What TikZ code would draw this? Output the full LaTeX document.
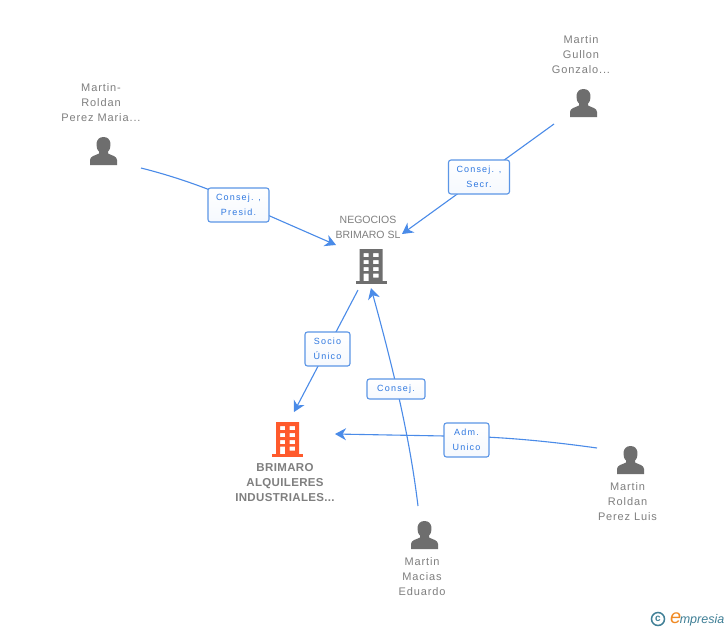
\documentclass[tikz,border=0pt]{standalone}
\usepackage{fontspec}
\setmainfont{Liberation Sans}
\usetikzlibrary{arrows.meta,shadings}
\definecolor{edgeblue}{HTML}{4A8BE8}
\definecolor{boxblue}{HTML}{5C96E6}
\definecolor{labelblue}{HTML}{2F78E0}
\definecolor{txtgrey}{HTML}{7F7F7F}
\definecolor{icongrey}{HTML}{6E6E6E}
\definecolor{iconorange}{HTML}{FF5A2C}
\definecolor{logoteal}{HTML}{3F7F96}
\definecolor{logoorange}{HTML}{F08A24}
\newfontfamily\spacedfont[LetterSpace=13]{Liberation Sans}
\newfontfamily\nodefont[LetterSpace=8]{Liberation Sans}
\newfontfamily\boldnodefont[LetterSpace=3]{Liberation Sans}
\newcommand{\personshape}[1]{%
  \fill[#1] (-13.5,14) -- (-13.5,9) .. controls (-13.5,5) and (-8,4.5) .. (-4.5,2.5)
    -- (-4.5,0.5) .. controls (-8.5,-3) and (-8.5,-14) .. (0,-14)
    .. controls (8.5,-14) and (8.5,-3) .. (4.5,0.5) -- (4.5,2.5)
    .. controls (8,4.5) and (13.5,5) .. (13.5,9) -- (13.5,14) -- cycle;}
\newcommand{\buildingshape}[1]{%
  \fill[#1] (-15.5,15) rectangle (15.5,17.5);
  \fill[#1,even odd rule] (-11.5,-17) rectangle (11.5,15)
    (-7.5,-13) rectangle (-2.5,-9) (2,-13) rectangle (7.5,-9)
    (-7.5,-6) rectangle (-2.5,-2) (2,-6) rectangle (7.5,-2)
    (-7.5,1) rectangle (-2.5,5) (2,1) rectangle (7.5,5)
    (-7.5,7.5) rectangle (-2.5,15) (2,7.5) rectangle (7.5,11.5);}
\tikzset{
  x=1pt,y=-1pt,
  personicon/.style={minimum width=28pt,minimum height=29pt,inner sep=0pt,
    path picture={\begin{scope}[shift={(path picture bounding box.center)}]\personshape{icongrey}\end{scope}}},
  greybuilding/.style={minimum width=32pt,minimum height=35pt,inner sep=0pt,
    path picture={\begin{scope}[shift={(path picture bounding box.center)}]\buildingshape{icongrey}\end{scope}}},
  orangebuilding/.style={minimum width=32pt,minimum height=35pt,inner sep=0pt,
    path picture={\begin{scope}[shift={(path picture bounding box.center)}]\buildingshape{iconorange}\end{scope}}},
  nametext/.style={align=center,text=txtgrey,font=\nodefont\fontsize{11}{15}\selectfont,inner sep=0pt},
  companytext/.style={align=center,text=txtgrey,font=\fontsize{10.5}{15}\selectfont,inner sep=0pt},
  boldname/.style={align=center,text=txtgrey,font=\boldnodefont\bfseries\fontsize{11.5}{15}\selectfont,inner sep=0pt},
  rolebox/.style={draw=boxblue,line width=1.1pt,rounded corners=2.5pt,top color=white,bottom color=white!94!boxblue,
    text=labelblue,align=center,inner sep=0pt,font=\spacedfont\fontsize{9}{15}\selectfont},
  linkline/.style={draw=edgeblue,line width=1.1pt,-{Stealth[length=11pt,width=12pt,inset=3.5pt]}},
}
\begin{document}
\begin{tikzpicture}
\useasboundingbox (0,0) rectangle (728,630);
\fill[white] (0,0) rectangle (728,630);
% icons
\node[personicon] (roldanmaria) at (103.5,151) {};
\node[personicon] (gullon) at (583.5,103) {};
\node[personicon] (luis) at (630.5,460) {};
\node[personicon] (eduardo) at (424.5,535) {};
\node[greybuilding] (negocios) at (371,266) {};
\node[orangebuilding] (brimaro) at (287.5,439) {};
% names
\node[nametext] (tmaria) at (101,103) {Martin-\\Roldan\\Perez Maria...};
\node[nametext] (tgullon) at (581,55) {Martin\\Gullon\\Gonzalo...};
\node[companytext] (tneg) at (368,227.5) {NEGOCIOS\\BRIMARO SL};
\node[boldname] (tbri) at (285,482.5) {BRIMARO\\ALQUILERES\\INDUSTRIALES...};
\node[nametext] (tluis) at (627.5,502) {Martin\\Roldan\\Perez Luis};
\node[nametext] (tedu) at (422,577) {Martin\\Macias\\Eduardo};
% connector ends
\coordinate (s1) at (141,168);
\coordinate (e1) at (336,245);
\coordinate (s2) at (554,124);
\coordinate (e2) at (402,234);
\coordinate (s3) at (358,290);
\coordinate (e3) at (294,412);
\coordinate (s4) at (418,506);
\coordinate (e4) at (371,288);
\coordinate (s5) at (597,448);
\coordinate (e5) at (335,434);
% connectors
\draw[linkline] (s1) .. controls (165,174) and (190,182) .. (215,192) -- (e1);
\draw[linkline] (s2) -- (e2);
\draw[linkline] (s3) -- (e3);
\draw[linkline] (s4) .. controls (410,440) and (395,375) .. (e4);
\draw[linkline] (s5) .. controls (540,440) and (490,436) .. (445,436) -- (e5);
% role boxes
\node[rolebox,minimum width=61pt,minimum height=34pt] (r1) at (238.5,205) {Consej. ,\\Presid.};
\node[rolebox,minimum width=61pt,minimum height=34pt] (r2) at (479,177) {Consej. ,\\Secr.};
\node[rolebox,minimum width=45pt,minimum height=34pt] (r3) at (327.5,349) {Socio\\Único};
\node[rolebox,minimum width=58pt,minimum height=20pt] (r4) at (396,389) {Consej.};
\node[rolebox,minimum width=45pt,minimum height=34pt] (r5) at (466.5,440) {Adm.\\Unico};
% logo
\node[draw=logoteal,line width=1.5pt,circle,inner sep=0pt,minimum size=13pt,text=logoteal,font=\bfseries\fontsize{10}{10}\selectfont] (copy) at (658,619) {c};
\node[anchor=west,inner sep=0pt,font=\itshape\fontsize{12.5}{12.5}\selectfont,text=logoteal] (logo) at (670,619) {{\color{logoorange}\fontsize{20}{20}\selectfont e}\kern-1.5pt mpresia};
\end{tikzpicture}
\end{document}
